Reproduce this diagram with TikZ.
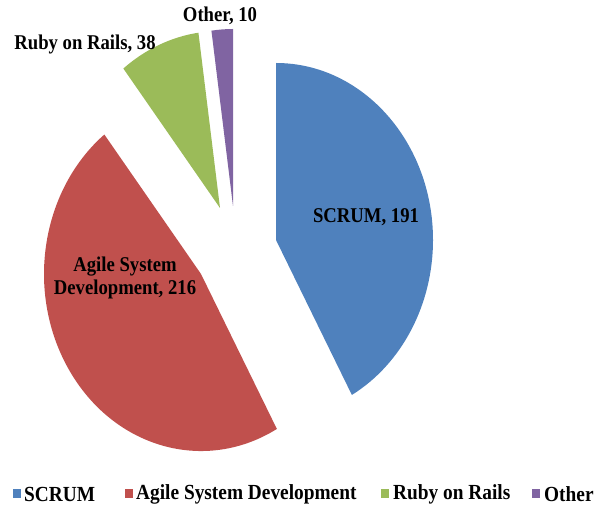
\documentclass[tikz,border=0pt]{standalone}
\usepackage{fontspec}
\setmainfont{Liberation Serif}
\usepackage{xcolor}

\definecolor{scrumblue}{HTML}{4F81BD}
\definecolor{agilered}{HTML}{C0504D}
\definecolor{rubygreen}{HTML}{9BBB59}
\definecolor{otherpurple}{HTML}{8064A2}

\tikzset{
  slicelabel/.style={font=\bfseries\fontsize{21}{23}\selectfont,align=center,inner sep=0pt,xscale=0.89},
  legendtext/.style={font=\bfseries\fontsize{21.5}{23}\selectfont,anchor=west,inner sep=0pt,xscale=0.9},
  legendbox/.style={minimum width=8pt,minimum height=9pt,inner sep=0pt}
}

\begin{document}
\begin{tikzpicture}[x=1pt,y=1pt]
\clip (0,0) rectangle (596,506);
\useasboundingbox (0,0) rectangle (596,506);
%slices (exploded pie, radii 157 and 177)
\coordinate (cs) at (276,266);
\coordinate (ca) at (201,232);
\coordinate (cr) at (220,298);
\coordinate (co) at (233,300);
\fill[scrumblue] (cs) -- ++(90:157 and 177) arc[start angle=90,end angle=-61.1,x radius=157,y radius=177] -- cycle;
\fill[agilered] (ca) -- ++(-61.1:157 and 177) arc[start angle=-61.1,end angle=-232,x radius=157,y radius=177] -- cycle;
\fill[rubygreen] (cr) -- ++(128:157 and 177) arc[start angle=128,end angle=97.9,x radius=157,y radius=177] -- cycle;
\fill[otherpurple] (co) -- ++(97.9:157 and 177) arc[start angle=97.9,end angle=90,x radius=157,y radius=177] -- cycle;
%labels
\node[slicelabel] (lscrum) at (366,289) {SCRUM, 191};
\node[slicelabel] (lagile) at (125,228) {Agile System\\Development, 216};
\node[slicelabel] (lruby) at (85,462) {Ruby on Rails, 38};
\node[slicelabel] (lother) at (220,490) {Other, 10};
%legend
\node[legendbox,fill=scrumblue] (kscrum) at (17,13) {};
\node[legendtext] (tscrum) at (24,12) {SCRUM};
\node[legendbox,fill=agilered] (kagile) at (128.5,13) {};
\node[legendtext] (tagile) at (136,12) {Agile System Development};
\node[legendbox,fill=rubygreen] (kruby) at (385,13) {};
\node[legendtext] (truby) at (393,12) {Ruby on Rails};
\node[legendbox,fill=otherpurple] (kother) at (536,13) {};
\node[legendtext] (tother) at (544,12) {Other};
\end{tikzpicture}
\end{document}
